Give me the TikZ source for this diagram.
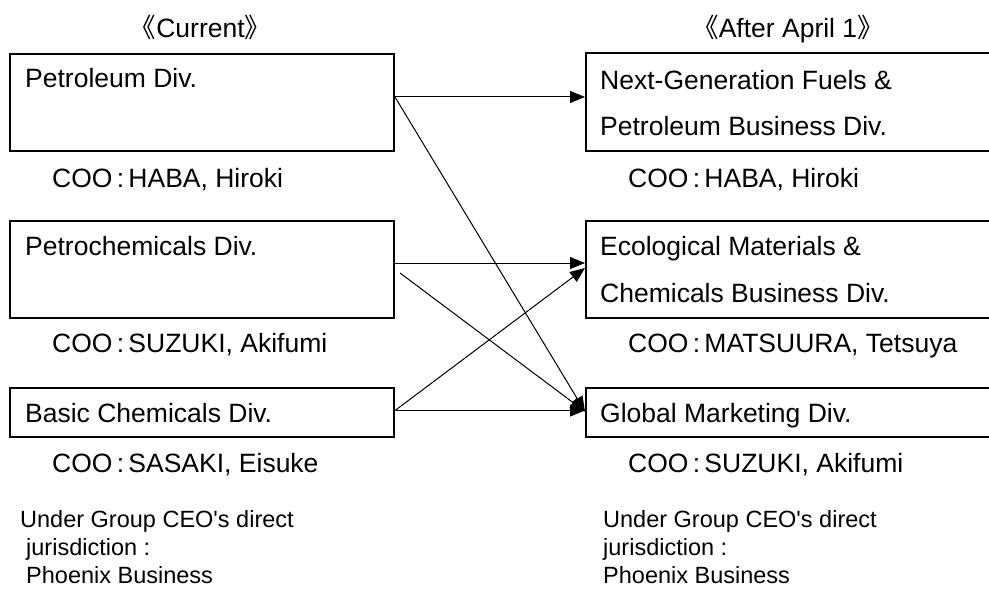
\documentclass[tikz,border=0pt]{standalone}
\usepackage{fontspec}
\setmainfont{Liberation Sans}
\newfontfamily\cjk{Noto Sans CJK JP}
\usetikzlibrary{arrows.meta}
\newcommand{\fcolon}{\makebox[0.6em]{:}}

\tikzset{
  divbox/.style={draw, line width=2pt, inner sep=0pt},
  lbl/.style={anchor=base west, inner sep=0pt, font=\fontsize{26.5}{30}\selectfont},
  note/.style={anchor=base west, inner sep=0pt, font=\fontsize{23.5}{28}\selectfont},
  link/.style={line width=1pt, -{Triangle[length=15pt,width=12pt]}},
}

\begin{document}
\begin{tikzpicture}[x=1pt, y=-1pt]
  \useasboundingbox (0,0) rectangle (989,591);
  \clip (0,0) rectangle (989,591);

  % Draw the headings
  \node[lbl, anchor=base] (curhead) at (200.5,38) {{\cjk 《}Current{\cjk 》}};
  \node[lbl, anchor=base] (newhead) at (788,38) {{\cjk 《}After April 1{\cjk 》}};

  % Draw the current divisions
  \node[divbox, minimum width=384pt, minimum height=97pt] (pet) at (202,102.5) {};
  \node[divbox, minimum width=384pt, minimum height=97pt] (pchem) at (202,269.5) {};
  \node[divbox, minimum width=384pt, minimum height=49pt] (basic) at (202,412.5) {};

  \node[lbl] (petname) at (25,88) {Petroleum Div.};
  \node[lbl] (pchemname) at (25,255) {Petrochemicals Div.};
  \node[lbl] (basicname) at (25,422) {Basic Chemicals Div.};

  \node[lbl] (petcoo) at (52,188) {COO\fcolon HABA, Hiroki};
  \node[lbl] (pchemcoo) at (52,352) {COO\fcolon SUZUKI, Akifumi};
  \node[lbl] (basiccoo) at (52,472) {COO\fcolon SASAKI, Eisuke};

  % Draw the new divisions (running off the right edge)
  \node[divbox, minimum width=420pt, minimum height=98pt] (nextgen) at (796,102) {};
  \node[divbox, minimum width=420pt, minimum height=97pt] (eco) at (796,269.5) {};
  \node[divbox, minimum width=420pt, minimum height=49pt] (glob) at (796,412.5) {};

  \node[lbl] (nextgenname) at (600,90) {Next-Generation Fuels \&};
  \node[lbl] (nextgenname2) at (600,136) {Petroleum Business Div.};
  \node[lbl] (econame) at (600,255) {Ecological Materials \&};
  \node[lbl] (econame2) at (600,302) {Chemicals Business Div.};
  \node[lbl] (globname) at (600,422) {Global Marketing Div.};

  \node[lbl] (nextgencoo) at (628,188) {COO\fcolon HABA, Hiroki};
  \node[lbl] (ecocoo) at (628,352) {COO\fcolon MATSUURA, Tetsuya};
  \node[lbl] (globcoo) at (628,472) {COO\fcolon SUZUKI, Akifumi};

  % Draw the moves
  \draw[link] ([yshift=5.5pt]pet.east) -- ([yshift=5pt]nextgen.west);
  \draw[link] ([yshift=5.5pt]pet.east) -- ([yshift=1pt]glob.west);
  \draw[link] ([yshift=6.5pt]pchem.east) -- ([yshift=6.5pt]eco.west);
  \draw[link] ([xshift=5pt,yshift=-3.5pt]pchem.east) -- ([yshift=1pt]glob.west);
  \draw[link] ([yshift=2pt]basic.east) -- ([yshift=1.5pt]eco.west);
  \draw[link] ([yshift=2pt]basic.east) -- ([yshift=2pt]glob.west);

  % Note under each column
  \node[note] (curnote1) at (20,527) {Under Group CEO\textquotesingle s direct};
  \node[note] (curnote2) at (26,555) {jurisdiction :};
  \node[note] (curnote3) at (26,583) {Phoenix Business};
  \node[note] (newnote1) at (603,527) {Under Group CEO\textquotesingle s direct};
  \node[note] (newnote2) at (603,555) {jurisdiction :};
  \node[note] (newnote3) at (603,583) {Phoenix Business};
\end{tikzpicture}
\end{document}
